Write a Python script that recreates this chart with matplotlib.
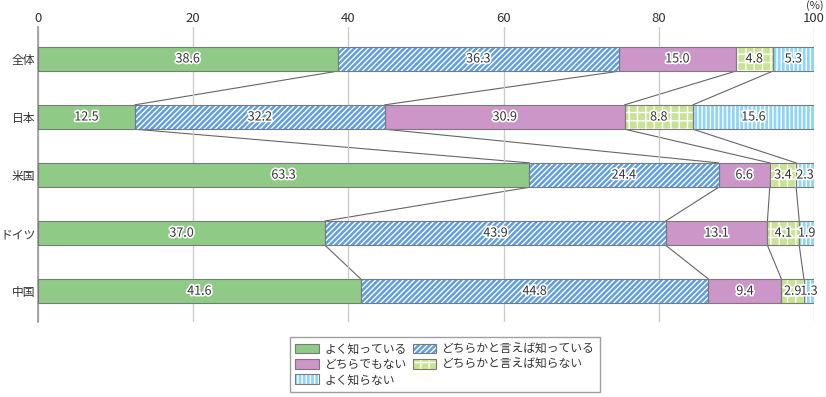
import matplotlib
matplotlib.use('Agg')
import matplotlib.pyplot as plt
import matplotlib.patheffects as pe
from matplotlib.patches import Patch
import numpy as np

plt.rcParams['font.family'] = ['Noto Sans CJK JP', 'DejaVu Sans']
plt.rcParams['hatch.linewidth'] = 1.0

# data
countries = ['全体', '日本', '米国', 'ドイツ', '中国']
categories = ['よく知っている', 'どちらかと言えば知っている', 'どちらでもない',
              'どちらかと言えば知らない', 'よく知らない']
know_well = [38.6, 12.5, 63.3, 37.0, 41.6]
know_somewhat = [36.3, 32.2, 24.4, 43.9, 44.8]
neutral = [15.0, 30.9, 6.6, 13.1, 9.4]
dont_know_somewhat = [4.8, 8.8, 3.4, 4.1, 2.9]
dont_know = [5.3, 15.6, 2.3, 1.9, 1.3]
xticks = [0, 20, 40, 60, 80, 100]

series = [know_well, know_somewhat, neutral, dont_know_somewhat, dont_know]
colors = ['#8fcb87', '#5f9ee0', '#cc96c8', '#c9e394', '#8fd5f8']
hatches = [None, '//////', None, '++', '||||']

fig = plt.figure(figsize=(8.26, 3.97), dpi=100)
ax = fig.add_axes([38 / 826, 1 - 322 / 397, (814 - 38) / 826, (322 - 27) / 397])

y = np.arange(len(countries))
h = 0.42
edge = '#7a7a7a'
left = np.zeros(len(countries))
bounds = [left.copy()]
for vals, c, ht in zip(series, colors, hatches):
    vals = np.array(vals)
    ax.barh(y, vals, left=left, height=h, color=c, edgecolor='white',
            hatch=ht, linewidth=0, zorder=2)
    ax.barh(y, vals, left=left, height=h, fill=False, edgecolor=edge,
            linewidth=0.8, zorder=3)
    for yi, l, v in zip(y, left, vals):
        ax.text(l + v / 2, yi, f'{v:.1f}', ha='center', va='center',
                fontsize=9, color='#333333', zorder=5,
                path_effects=[pe.withStroke(linewidth=2.5, foreground='white')])
    left = left + vals
    bounds.append(left.copy())

# connector lines between bars
for k in range(1, len(series)):
    b = bounds[k]
    for i in range(len(countries) - 1):
        ax.plot([b[i], b[i + 1]], [y[i] + h / 2, y[i + 1] - h / 2],
                color='#666666', linewidth=0.8, zorder=1)

ax.set_xlim(0, 100)
ax.set_ylim(4.53, -0.55)
ax.set_xticks(xticks)
ax.xaxis.tick_top()
ax.tick_params(axis='x', length=0, labelsize=9.5, pad=1.5, colors='#333333')
ax.set_yticks(y)
ax.set_yticklabels(countries)
ax.tick_params(axis='y', length=0, labelsize=8.5, pad=2, colors='#333333')
ax.grid(axis='x', color='#cccccc', linewidth=1, zorder=0)
for s in ['top', 'right', 'bottom']:
    ax.spines[s].set_visible(False)
ax.spines['left'].set_color('#999999')
ax.spines['left'].set_linewidth(1.2)
fig.text(815 / 826, 1 - 0.5 / 397, '(%)', ha='center', va='top',
         fontsize=8, color='#333333')

handles = []
for c, ht in zip(colors, hatches):
    handles.append((Patch(facecolor=c, edgecolor='white', hatch=ht, linewidth=0),
                    Patch(fill=False, edgecolor=edge, linewidth=0.8)))
order = [0, 2, 4, 1, 3]
leg = fig.legend([handles[i] for i in order], [categories[i] for i in order],
                 ncol=2, loc='center', bbox_to_anchor=(445 / 826, 1 - 364.5 / 397),
                 fontsize=8.5, frameon=True, fancybox=False, handlelength=2.0,
                 handleheight=0.9, handletextpad=0.5, columnspacing=0.5,
                 labelspacing=0.2, borderpad=0.45, borderaxespad=0)
leg.get_frame().set_edgecolor('#888888')
leg.get_frame().set_linewidth(1)
for t in leg.get_texts():
    t.set_color('#333333')

fig.savefig('out.png', dpi=100)
